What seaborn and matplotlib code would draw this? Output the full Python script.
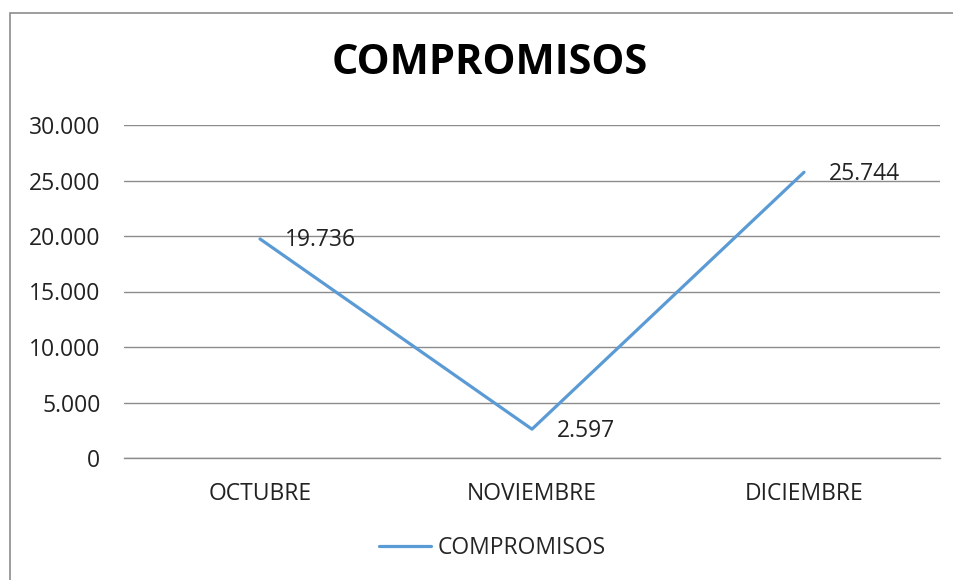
import numpy as np
import pandas as pd
import matplotlib
matplotlib.use("Agg")
import matplotlib.pyplot as plt
import seaborn as sns
from matplotlib.patches import Rectangle
from matplotlib.ticker import FuncFormatter

# Data
meses = ["OCTUBRE", "NOVIEMBRE", "DICIEMBRE"]
compromisos = [19736, 2597, 25744]
serie = "COMPROMISOS"

df = pd.DataFrame({"Mes": meses, "Valor": compromisos})
df["x"] = np.arange(len(meses))

sns.set_style("white")
plt.rcParams["font.family"] = ["Open Sans", "DejaVu Sans"]

fig = plt.figure(figsize=(9.54, 5.8), dpi=100)
ax = fig.add_axes([124 / 954, 1 - 458 / 580, (940 - 124) / 954, (458 - 125) / 580])

# chart border (Excel style)
fig.patches.append(Rectangle((10 / 954, -0.1), 1.2, 1 - 13 / 580 + 0.1,
                             transform=fig.transFigure, fill=False,
                             edgecolor="#8c8c8c", linewidth=1.2))

sns.lineplot(data=df, x="x", y="Valor", ax=ax, color="#5B9BD5",
             linewidth=2.3, label=serie, legend=False)

fmt = lambda v: f"{v:,.0f}".replace(",", ".")

for xi, v in zip(df["x"], df["Valor"]):
    ax.annotate(fmt(v), (xi, v), xytext=(18, -1), textcoords="offset points",
                va="center", ha="left", fontsize=16.5, color="#222222")

ax.set_xlim(-0.5, len(meses) - 0.5)
ax.set_ylim(0, 30000)
ax.set_yticks(np.arange(0, 30001, 5000))
ax.yaxis.set_major_formatter(FuncFormatter(lambda v, p: fmt(v)))
ax.set_xticks(df["x"])
ax.set_xticklabels(meses)
ax.tick_params(axis="both", length=0, labelsize=16.5, labelcolor="#222222")
ax.tick_params(axis="x", pad=17)
ax.tick_params(axis="y", pad=17)
ax.set_xlabel("")
ax.set_ylabel("")

ax.grid(axis="y", color="#8c8c8c", linewidth=1)
ax.set_axisbelow(True)
for s in ["top", "right", "left"]:
    ax.spines[s].set_visible(False)
ax.spines["bottom"].set_color("#8c8c8c")
ax.spines["bottom"].set_linewidth(1)

fig.text(490 / 954, 1 - 63 / 580, "COMPROMISOS", ha="center", va="center",
         fontsize=30, fontweight="bold", color="black")

handles, labels = ax.get_legend_handles_labels()
fig.legend(handles, labels, loc="center", bbox_to_anchor=(492 / 954, 1 - 548 / 580),
           frameon=False, fontsize=16.5, handlelength=2.3, handletextpad=0.25)

fig.savefig("out.png", dpi=100, facecolor="white")
